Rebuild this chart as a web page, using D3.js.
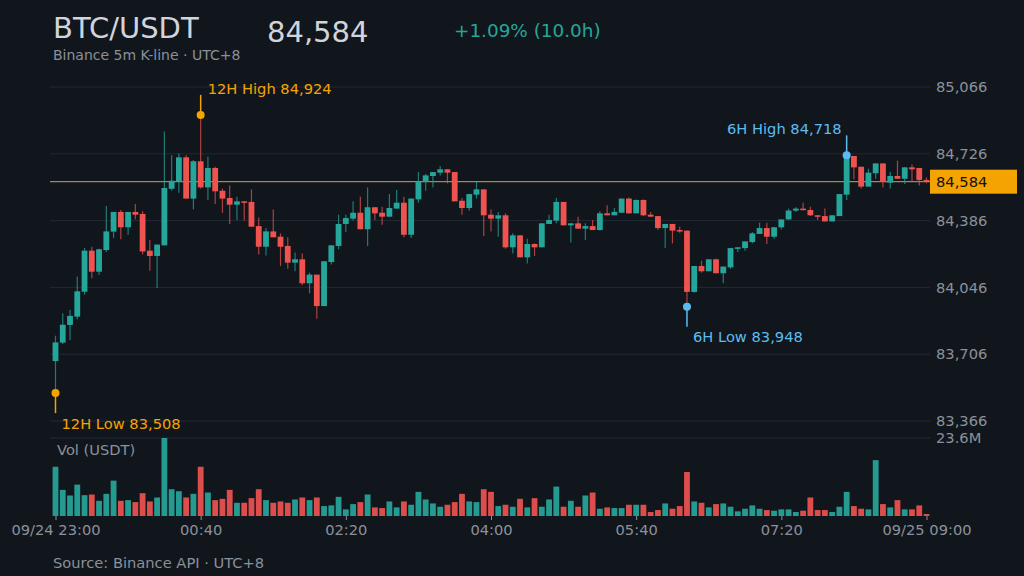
<!DOCTYPE html>
<html>
<head>
<meta charset="utf-8">
<script src="https://cdn.jsdelivr.net/npm/d3@7"></script>
<style>
  html, body { margin: 0; padding: 0; background: #11161d; }
  svg { display: block; font-family: "DejaVu Sans", sans-serif; }
</style>
</head>
<body>
<div id="chart"></div>
<script>
// 5m candles, 09/24 23:00 -> 09/25 09:00 (UTC+8)
const opens = [
  83671,83765,83855,83897,84024,84233,84126,84236,84330,84430,84352,84430,84420,84233,84206,84260,84548,84586,84708,84498,
  84688,84555,84654,84538,84501,84467,84484,84481,84358,84253,84331,84304,84257,84172,84189,84067,84111,83951,84175,84257,
  84369,84396,84426,84342,84454,84426,84406,84447,84477,84314,84494,84582,84613,84630,84647,84633,84487,84450,84518,84545,
  84416,84396,84413,84250,84311,84199,84267,84250,84369,84386,84481,84362,84372,84345,84358,84338,84423,84413,84426,84498,
  84423,84491,84416,84409,84348,84369,84338,84335,84023,84155,84128,84189,84118,84148,84243,84246,84277,84318,84348,84304,
  84352,84392,84437,84447,84440,84413,84409,84382,84409,84518,84715,84660,84559,84627,84677,84579,84613,84599,84657,84654,
  84593
];
const highs = [
  83800,83914,83931,84101,84247,84253,84243,84460,84430,84440,84430,84471,84433,84287,84264,84840,84718,84728,84718,84694,
  84924,84711,84660,84549,84565,84508,84486,84545,84402,84348,84443,84321,84301,84223,84219,84121,84111,84179,84260,84416,
  84416,84484,84508,84555,84454,84457,84521,84542,84508,84498,84633,84623,84633,84664,84647,84633,84501,84521,84582,84545,
  84443,84430,84423,84321,84311,84294,84270,84372,84416,84501,84481,84372,84406,84372,84389,84433,84464,84450,84498,84504,
  84494,84494,84430,84409,84369,84369,84355,84335,84155,84182,84189,84192,84152,84246,84250,84280,84328,84375,84375,84352,
  84392,84447,84454,84477,84457,84413,84447,84413,84521,84718,84715,84660,84650,84677,84677,84633,84691,84657,84671,84654,
  84606
];
const lows = [
  83508,83758,83778,83883,84009,84092,84109,84226,84297,84291,84314,84393,84213,84131,84043,84260,84538,84528,84498,84443,
  84550,84491,84471,84426,84369,84389,84386,84355,84213,84209,84301,84155,84141,84128,84057,84016,83887,83951,84162,84240,
  84328,84386,84342,84257,84389,84365,84406,84447,84301,84297,84477,84538,84555,84616,84576,84484,84416,84436,84498,84308,
  84331,84304,84243,84219,84199,84168,84206,84250,84369,84372,84362,84274,84345,84287,84338,84335,84413,84413,84426,84420,
  84423,84409,84406,84338,84246,84270,84324,83948,84019,84121,84128,84118,84067,84141,84226,84233,84270,84318,84267,84294,
  84341,84389,84430,84437,84409,84389,84382,84382,84409,84491,84596,84549,84559,84599,84555,84549,84599,84572,84582,84565,
  84576
];
const closes = [
  83766,83856,83901,84026,84233,84126,84240,84331,84430,84352,84430,84416,84229,84206,84264,84552,84589,84708,84498,84688,
  84555,84654,84535,84498,84467,84484,84477,84355,84253,84331,84301,84253,84172,84189,84067,84111,83951,84179,84260,84369,
  84399,84426,84342,84454,84423,84406,84450,84477,84314,84498,84582,84616,84633,84647,84630,84484,84450,84521,84545,84413,
  84396,84413,84250,84311,84199,84267,84250,84372,84389,84481,84362,84372,84345,84358,84338,84423,84413,84430,84498,84423,
  84491,84413,84406,84348,84369,84335,84331,84023,84155,84128,84189,84118,84152,84246,84250,84280,84321,84348,84304,84352,
  84392,84437,84447,84440,84413,84406,84382,84413,84521,84712,84657,84559,84630,84677,84582,84613,84599,84657,84647,84593,
  84584
];
// volume in millions of USDT
const volumes = [
  14.9,7.9,6.2,9.5,6.3,6.5,4.6,6.7,10.7,4.6,4.8,4.2,6.9,4.4,5.6,23.6,8.1,7.5,5.6,6.7,
  14.9,7.1,4.8,5.2,7.9,4.0,4.0,5.4,8.1,4.8,4.0,4.4,4.0,5.0,5.6,4.8,5.6,3.0,3.2,5.8,
  2.0,3.6,4.2,6.5,2.6,2.4,4.4,2.6,4.4,3.4,7.3,5.0,3.8,2.8,3.4,4.2,6.7,4.4,4.2,8.1,
  7.3,3.0,3.4,2.8,5.2,2.6,5.4,2.8,5.0,8.9,2.8,4.6,2.8,6.2,7.1,2.2,2.6,2.4,2.4,3.4,
  3.4,3.4,1.2,1.8,3.8,2.2,3.0,13.3,4.4,4.0,2.6,3.6,3.8,2.8,1.4,2.2,3.2,2.2,1.8,1.6,
  2.0,2.0,1.2,1.6,5.6,1.8,1.8,1.2,2.8,7.3,3.0,2.2,2.0,16.9,3.6,2.6,4.8,2.0,2.0,3.2,
  0.6
];
const priceTicks = [83366, 83706, 84046, 84386, 84726, 85066];
const lastPrice = 84584;
const volMax = 23.6;

const W = 1024, H = 576;
const up = "#26a69a", down = "#ef5350", orange = "#f5a300", blue = "#5bbcf2";
const grey = "#8b9099", gridC = "#222935";
const fs = 14.67;

const t0 = new Date(2025, 8, 24, 23, 0);
const times = opens.map((_, i) => new Date(t0.getTime() + i * 5 * 60000));
const candles = opens.map((o, i) => ({
  t: times[i], o, h: highs[i], l: lows[i], c: closes[i], v: volumes[i]
}));

const svg = d3.select("#chart").append("svg")
  .attr("width", W).attr("height", H);
svg.append("rect").attr("width", W).attr("height", H).attr("fill", "#11161d");

const x = d3.scaleTime().domain([times[0], times[times.length - 1]]).range([55.5, 926.5]);
const y = d3.scaleLinear().domain([83366, 85066]).range([421, 87]);
const yv = d3.scaleLinear().domain([0, volMax]).range([516, 438]);
const bw = 5.8;

// header
svg.append("text").attr("x", 53).attr("y", 38).attr("font-size", 29)
  .attr("fill", "#d1d4dc").text("BTC/USDT");
svg.append("text").attr("x", 53).attr("y", 60).attr("font-size", 14)
  .attr("fill", grey).text("Binance 5m K-line · UTC+8");
svg.append("text").attr("x", 267).attr("y", 42).attr("font-size", 29)
  .attr("fill", "#d1d4dc").text(d3.format(",")(lastPrice));
const chg = (lastPrice / opens[0] - 1) * 100;
svg.append("text").attr("x", 454).attr("y", 37).attr("font-size", 18.4)
  .attr("fill", up).text(`+${chg.toFixed(2)}% (10.0h)`);

// price grid + axis
svg.append("g").selectAll("line").data(priceTicks).join("line")
  .attr("x1", 50).attr("x2", 930)
  .attr("y1", d => y(d)).attr("y2", d => y(d))
  .attr("stroke", gridC).attr("stroke-width", 1);

const yAxis = svg.append("g").attr("transform", "translate(930,0)")
  .call(d3.axisRight(y).tickValues(priceTicks).tickFormat(d3.format(",")).tickSize(0).tickPadding(6));
yAxis.select(".domain").remove();
yAxis.selectAll("text").attr("fill", grey).attr("font-size", fs)
  .attr("font-family", "DejaVu Sans");

// volume grid
svg.append("line").attr("x1", 50).attr("x2", 930)
  .attr("y1", yv(volMax)).attr("y2", yv(volMax)).attr("stroke", gridC);
svg.append("text").attr("x", 936).attr("y", yv(volMax) + 5).attr("font-size", fs)
  .attr("fill", grey).text(volMax + "M");
svg.append("text").attr("x", 57).attr("y", 455).attr("font-size", fs)
  .attr("fill", grey).text("Vol (USDT)");

// last price line
svg.append("line").attr("x1", 50).attr("x2", 930)
  .attr("y1", y(lastPrice)).attr("y2", y(lastPrice))
  .attr("stroke", "#c9a45a").attr("stroke-width", 1);

// candles
const cg = svg.append("g");
cg.selectAll("line.wick").data(candles).join("line")
  .attr("class", "wick")
  .attr("x1", d => x(d.t)).attr("x2", d => x(d.t))
  .attr("y1", d => y(d.h)).attr("y2", d => y(d.l))
  .attr("stroke", d => d.c >= d.o ? up : down)
  .attr("stroke-opacity", 0.7).attr("stroke-width", 1.2);
cg.selectAll("rect.body").data(candles).join("rect")
  .attr("class", "body")
  .attr("x", d => x(d.t) - bw / 2).attr("width", bw)
  .attr("y", d => y(Math.max(d.o, d.c)))
  .attr("height", d => Math.max(1.5, Math.abs(y(d.o) - y(d.c))))
  .attr("fill", d => d.c >= d.o ? up : down);

// volume bars
svg.append("g").selectAll("rect").data(candles).join("rect")
  .attr("x", d => x(d.t) - bw / 2).attr("width", bw)
  .attr("y", d => yv(d.v)).attr("height", d => yv(0) - yv(d.v))
  .attr("fill", d => d.c >= d.o ? up : down).attr("fill-opacity", 0.92);

// high / low markers
function marker(i, price, color, dir, label, anchor, dx, ty) {
  const cx = x(times[i]), cy = y(price);
  svg.append("line").attr("x1", cx).attr("x2", cx)
    .attr("y1", cy).attr("y2", cy + dir * 20)
    .attr("stroke", color).attr("stroke-width", 1.5);
  svg.append("circle").attr("cx", cx).attr("cy", cy).attr("r", 4)
    .attr("fill", color);
  svg.append("text").attr("x", cx + dx).attr("y", ty).attr("font-size", fs)
    .attr("text-anchor", anchor).attr("fill", color)
    .text(label + " " + d3.format(",")(price));
}
const hi12 = d3.maxIndex(highs), lo12 = d3.minIndex(lows);
const hi6 = 48 + d3.maxIndex(highs.slice(48)), lo6 = 48 + d3.minIndex(lows.slice(48));
marker(hi12, highs[hi12], orange, -1, "12H High", "start", 7, 94);
marker(lo12, lows[lo12], orange, 1, "12H Low", "start", 6, 429);
marker(hi6, highs[hi6], blue, -1, "6H High", "end", -5, 134);
marker(lo6, lows[lo6], blue, 1, "6H Low", "start", 6, 342);

// last price tag
svg.append("rect").attr("x", 930).attr("y", y(lastPrice) - 12)
  .attr("width", 87).attr("height", 24).attr("fill", orange);
svg.append("text").attr("x", 936).attr("y", y(lastPrice) + 5.5)
  .attr("font-size", fs).attr("fill", "#111").text(d3.format(",")(lastPrice));

// x axis
const xTicks = times.filter((_, i) => i % 20 === 0);
const fmtHM = d3.timeFormat("%H:%M"), fmtFull = d3.timeFormat("%m/%d %H:%M");
const xAxis = svg.append("g").attr("transform", `translate(0,${yv(0)})`)
  .call(d3.axisBottom(x).tickValues(xTicks).tickSize(4).tickPadding(5)
    .tickFormat((d, i) => (i === 0 || i === xTicks.length - 1) ? fmtFull(d) : fmtHM(d)));
xAxis.select(".domain").remove();
xAxis.selectAll("line").attr("stroke", grey);
xAxis.selectAll("text").attr("fill", grey).attr("font-size", fs)
  .attr("font-family", "DejaVu Sans");

svg.append("text").attr("x", 53).attr("y", 568).attr("font-size", fs)
  .attr("fill", grey).text("Source: Binance API · UTC+8");
</script>
</body>
</html>
